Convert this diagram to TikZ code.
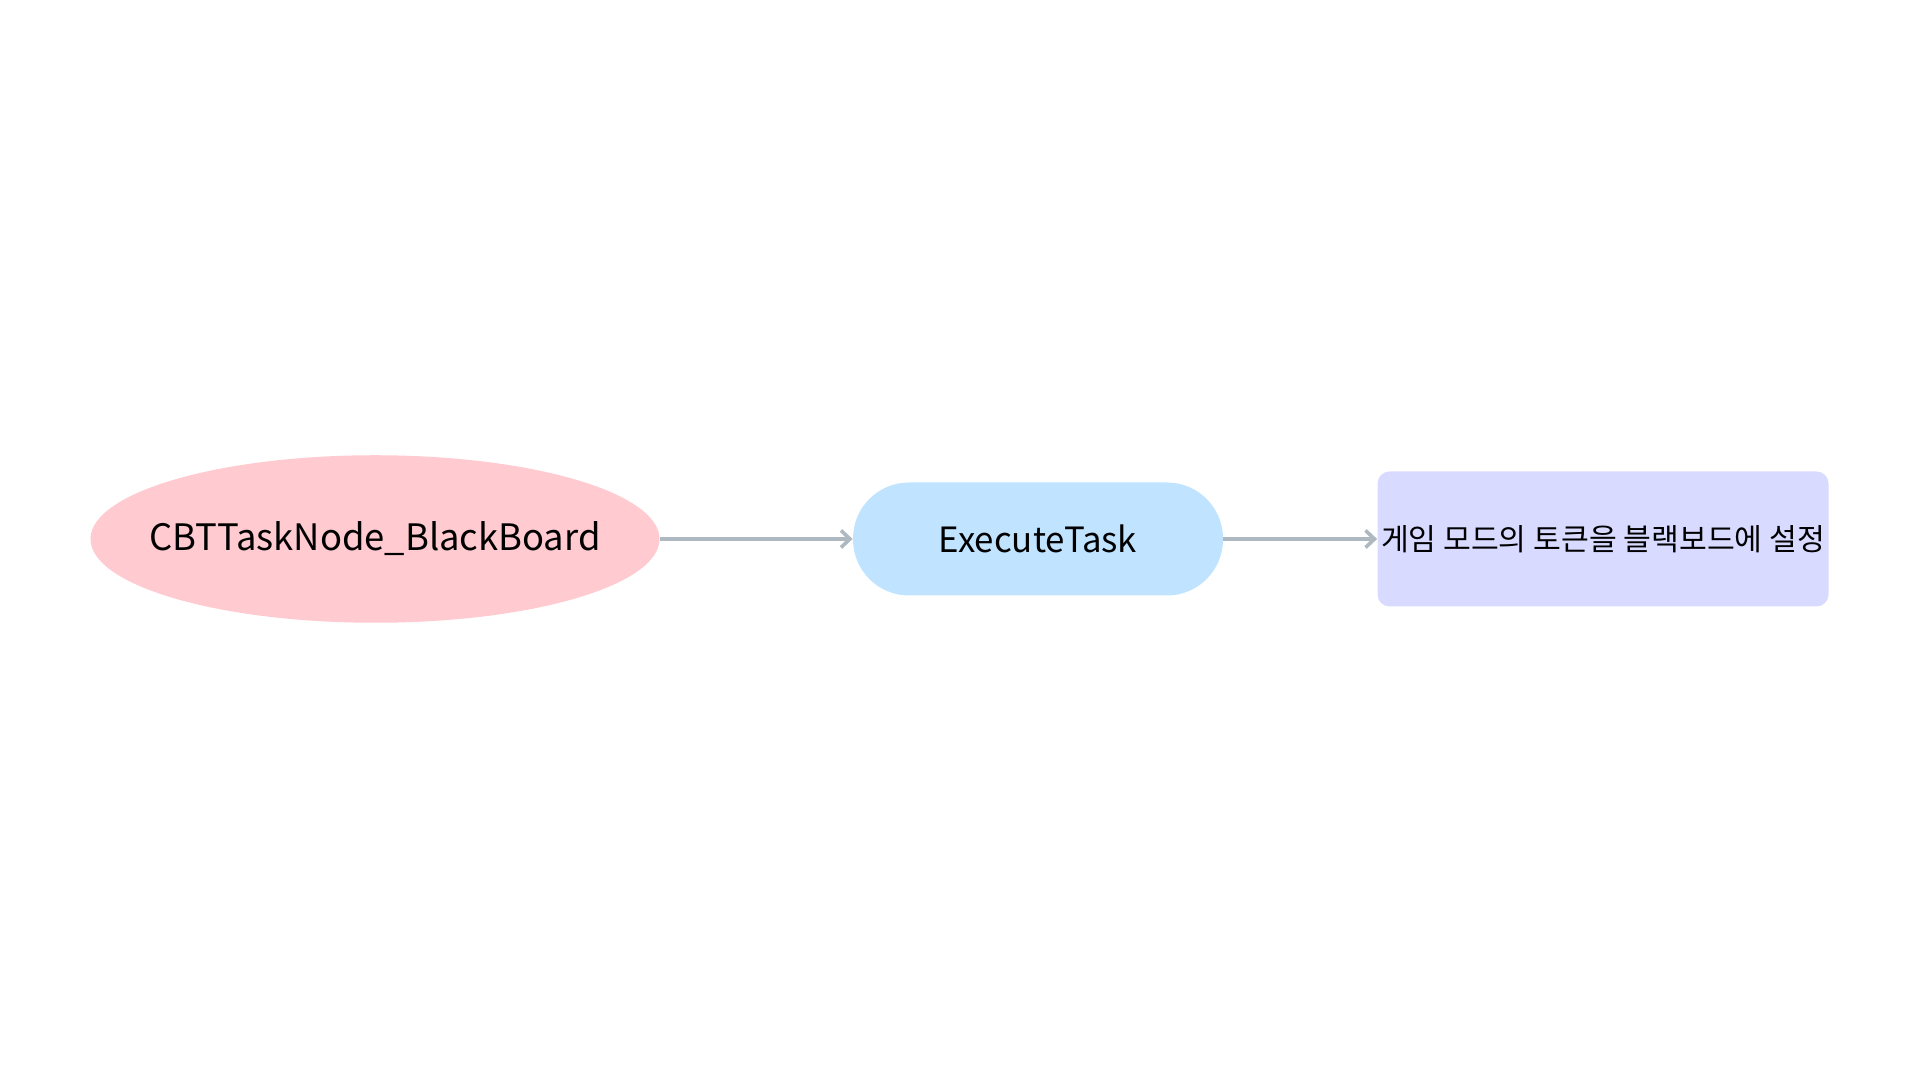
\documentclass[tikz,border=0pt]{standalone}
\usepackage{fontspec}
\setmainfont{Noto Sans CJK KR}
\usetikzlibrary{shapes.geometric,arrows.meta}
\definecolor{pinkfill}{HTML}{FFCAD0}
\definecolor{bluefill}{HTML}{C0E4FF}
\definecolor{lilacfill}{HTML}{D8DAFF}
\definecolor{linkgray}{HTML}{ADB8C1}
\tikzset{
	link/.style={draw=linkgray, line width=1.8pt, -{Straight Barb[length=4.5pt,width=8.5pt]}},
}
\begin{document}
\begin{tikzpicture}[x=0.5pt,y=0.5pt]
		\useasboundingbox (0,0) rectangle (1920,1080);
		\node[ellipse, fill=pinkfill, inner sep=0pt, minimum width=284.5pt, minimum height=83.75pt, font=\fontsize{18.2}{22}\selectfont] (bb) at (375,541) {\makebox[0pt]{CBTTaskNode\_BlackBoard}};
		\node[rectangle, rounded corners=28pt, fill=bluefill, inner sep=0pt, minimum width=185pt, minimum height=56.5pt, font=\fontsize{17.4}{20}\selectfont] (exec) at (1038,541) {ExecuteTask};
		\node[rectangle, rounded corners=6pt, fill=lilacfill, inner sep=0pt, minimum width=225.5pt, minimum height=67.5pt, font=\fontsize{15.1}{20}\selectfont] (token) at (1603,541) {\makebox[0pt]{게임 모드의 토큰을 블랙보드에 설정}};
		\draw [link] (bb.east)--(exec.west);
		\draw [link] (exec.east)--(token.west);
	\end{tikzpicture}
\end{document}
